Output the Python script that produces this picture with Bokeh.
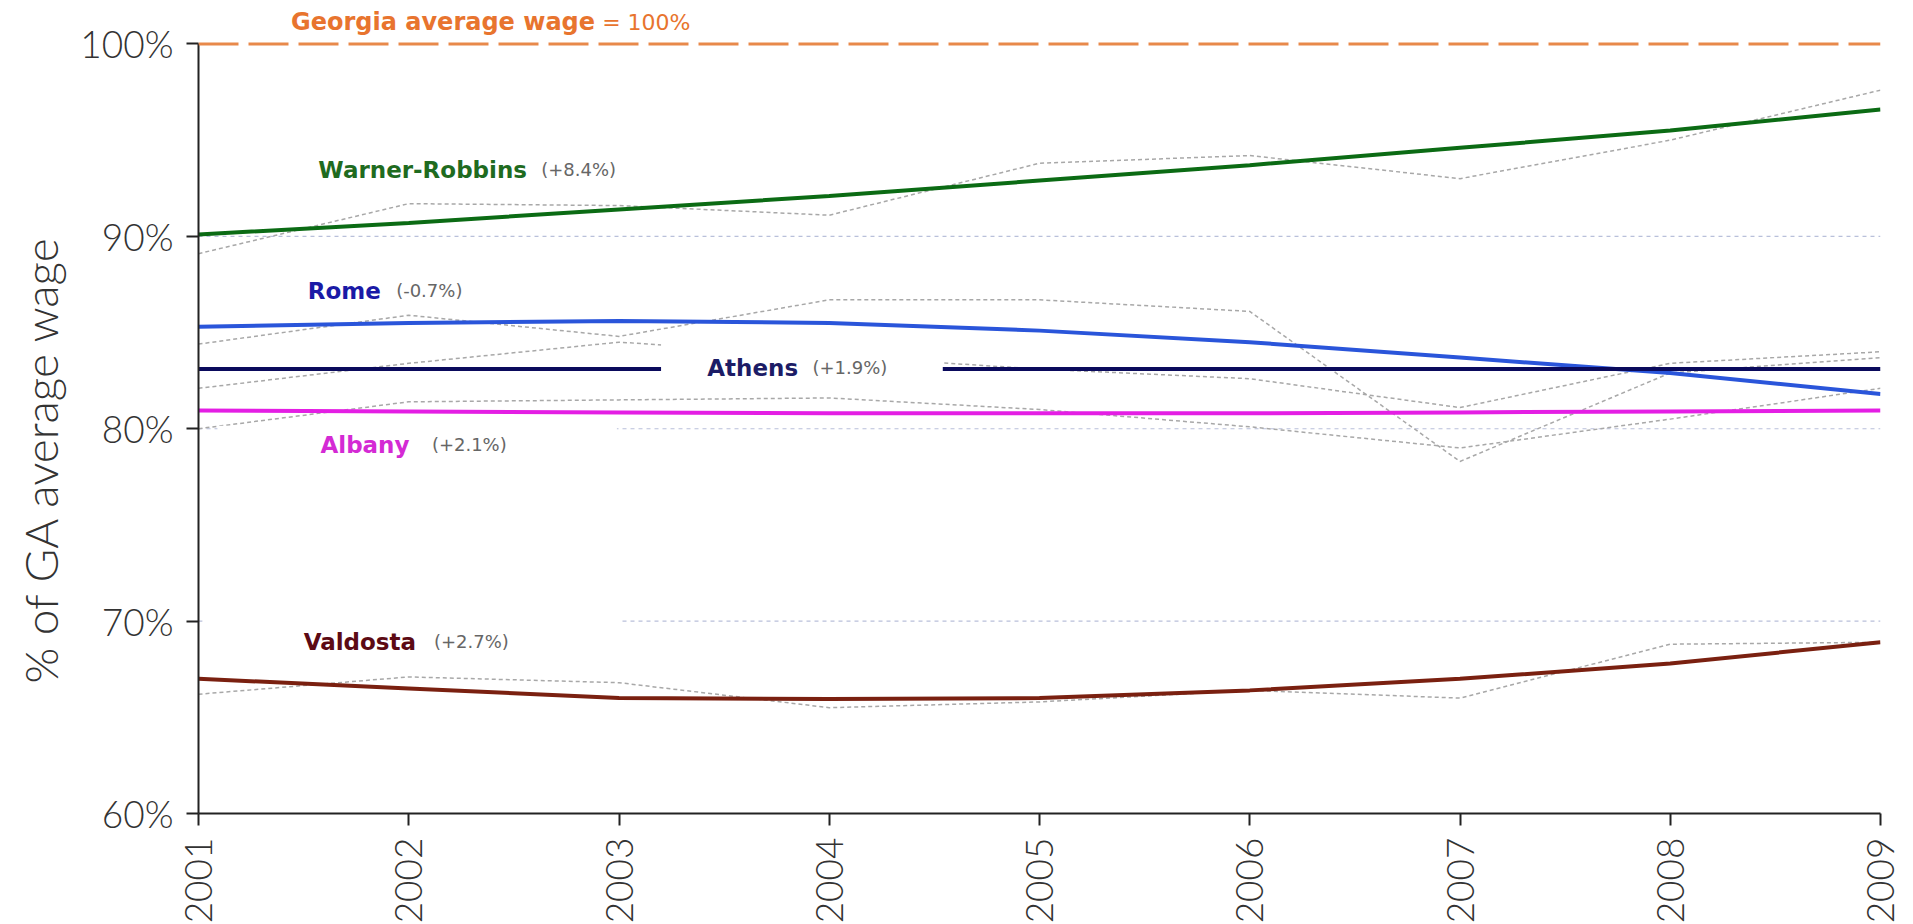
import math
from bokeh.plotting import figure
from bokeh.models import Range1d, FixedTicker, PrintfTickFormatter, Span, BoxAnnotation, Label, Title
from bokeh.embed import file_html
from bokeh.resources import INLINE

# ---------------- data ----------------
years = [2001, 2002, 2003, 2004, 2005, 2006, 2007, 2008, 2009]
year_labels = ["2001", "2002", "2003", "2004", "2005", "2006", "2007", "2008", "2009"]
y_ticks = [60, 70, 80, 90, 100]

warner_raw = [89.1, 91.7, 91.6, 91.1, 93.8, 94.2, 93.0, 95.0, 97.6]
warner_trend = [90.1, 90.7, 91.4, 92.1, 92.9, 93.7, 94.6, 95.5, 96.6]
rome_raw = [84.4, 85.9, 84.8, 86.7, 86.7, 86.1, 78.3, 82.9, 83.7]
rome_trend = [85.3, 85.5, 85.6, 85.5, 85.1, 84.5, 83.7, 82.9, 81.8]
athens_raw = [82.1, 83.4, 84.5, 83.8, 83.1, 82.6, 81.1, 83.4, 84.0]
athens_trend = [83.1, 83.1, 83.1, 83.1, 83.1, 83.1, 83.1, 83.1, 83.1]
albany_raw = [80.0, 81.4, 81.5, 81.6, 81.0, 80.1, 79.0, 80.5, 82.1]
albany_trend = [80.95, 80.9, 80.85, 80.8, 80.8, 80.8, 80.85, 80.9, 80.95]
valdosta_raw = [66.2, 67.1, 66.8, 65.5, 65.8, 66.4, 66.0, 68.8, 68.9]
valdosta_trend = [67.0, 66.5, 66.0, 65.95, 66.0, 66.4, 67.0, 67.8, 68.9]

cities = ["Warner-Robbins", "Rome", "Athens", "Albany", "Valdosta"]
changes = ["(+8.4%)", "(-0.7%)", "(+1.9%)", "(+2.1%)", "(+2.7%)"]
reference_value = 100
grid_values = [70, 80, 90]

# ---------------- styling ----------------
ORANGE_LINE = "#E8894A"
ORANGE_TEXT = "#E8742E"
line_colors = ["#0B6B14", "#2A55DA", "#0A0A5C", "#E41EE4", "#7A2010"]
label_colors = ["#1F6B1F", "#1A1AA6", "#1C1C66", "#D42AD4", "#5C0A14"]
GREY = "#A8A8A8"
TICK_FONT = "'Lato Light', Lato, sans-serif"

p = figure(frame_width=1682, frame_height=813,
           x_range=Range1d(2001, 2009), y_range=Range1d(60, 102.26),
           output_backend="svg", toolbar_location=None,
           min_border_left=195, min_border_right=32,
           min_border_top=0, min_border_bottom=108)
p.outline_line_color = None
p.grid.visible = False
p.background_fill_color = "white"

# axes
p.yaxis.ticker = FixedTicker(ticks=y_ticks)
p.yaxis.formatter = PrintfTickFormatter(format="%d%%")
p.yaxis.bounds = (60, 100)
p.xaxis.ticker = FixedTicker(ticks=years)
p.xaxis.major_label_overrides = {y: l for y, l in zip(years, year_labels)}
p.xaxis.major_label_orientation = math.pi / 2
for ax in (p.xaxis, p.yaxis):
    ax.axis_line_width = 2
    ax.axis_line_color = "#222222"
    ax.major_tick_line_color = "#222222"
    ax.major_tick_line_width = 2
    ax.major_tick_out = 12
    ax.major_tick_in = 0
    ax.minor_tick_line_color = None
    ax.major_label_text_font = TICK_FONT
    ax.major_label_text_font_size = "37px"
    ax.major_label_text_color = "#333333"
p.yaxis.major_label_standoff = 13
p.xaxis.major_label_standoff = 12

# y axis title
p.add_layout(Title(text="% of GA average wage", align="left", offset=130, standoff=20,
                   text_font=TICK_FONT, text_font_size="46px", text_font_style="normal",
                   text_color="#333333"), "left")

# gridlines and the reference line
for gv in grid_values:
    p.add_layout(Span(location=gv, dimension="width", line_color="#B9C0DA",
                      line_width=1.2, line_dash="4 4", level="underlay"))
p.add_layout(Span(location=reference_value, dimension="width", line_color=ORANGE_LINE,
                  line_width=3, line_dash="40 10"))

raws = [warner_raw, rome_raw, athens_raw, albany_raw, valdosta_raw]
trends = [warner_trend, rome_trend, athens_trend, albany_trend, valdosta_trend]

for r in raws:
    p.line(years, r, line_color=GREY, line_width=1.5, line_dash="4 3")
for t, c in zip(trends, line_colors):
    p.line(years, t, line_color=c, line_width=4)

# white label backgrounds
for (l, r_, b, t) in [(2003.20, 2004.54, 82.2, 84.7),
                      (2001.09, 2002.99, 78.2, 80.15),
                      (2001.02, 2003.00, 68.0, 70.35)]:
    p.add_layout(BoxAnnotation(left=l, right=r_, bottom=b, top=t,
                               fill_color="white", fill_alpha=1.0, line_color=None))

# title
p.add_layout(Label(x=2001.44, y=101.12, text="Georgia average wage",
                   text_font="DejaVu Sans", text_font_style="bold", text_font_size="24px",
                   text_color=ORANGE_TEXT, text_align="left", text_baseline="middle"))
p.add_layout(Label(x=2002.92, y=101.12, text="= 100%",
                   text_font="DejaVu Sans", text_font_size="22px",
                   text_color=ORANGE_TEXT, text_align="left", text_baseline="middle"))

# series labels
name_pos = [(2001.57, 93.47), (2001.52, 87.18), (2003.42, 83.18), (2001.58, 79.17), (2001.50, 68.93)]
chg_x = [2002.63, 2001.94, 2003.92, 2002.11, 2002.12]
for name, chg, (nx, ny), cx, col in zip(cities, changes, name_pos, chg_x, label_colors):
    p.add_layout(Label(x=nx, y=ny, text=name, text_font="DejaVu Sans", text_font_style="bold",
                       text_font_size="23px", text_color=col,
                       text_align="left", text_baseline="middle"))
    p.add_layout(Label(x=cx, y=ny, text=chg, text_font="DejaVu Sans",
                       text_font_size="18px", text_color="#666666",
                       text_align="left", text_baseline="middle"))

open("out.html", "w").write(file_html(p, INLINE))
